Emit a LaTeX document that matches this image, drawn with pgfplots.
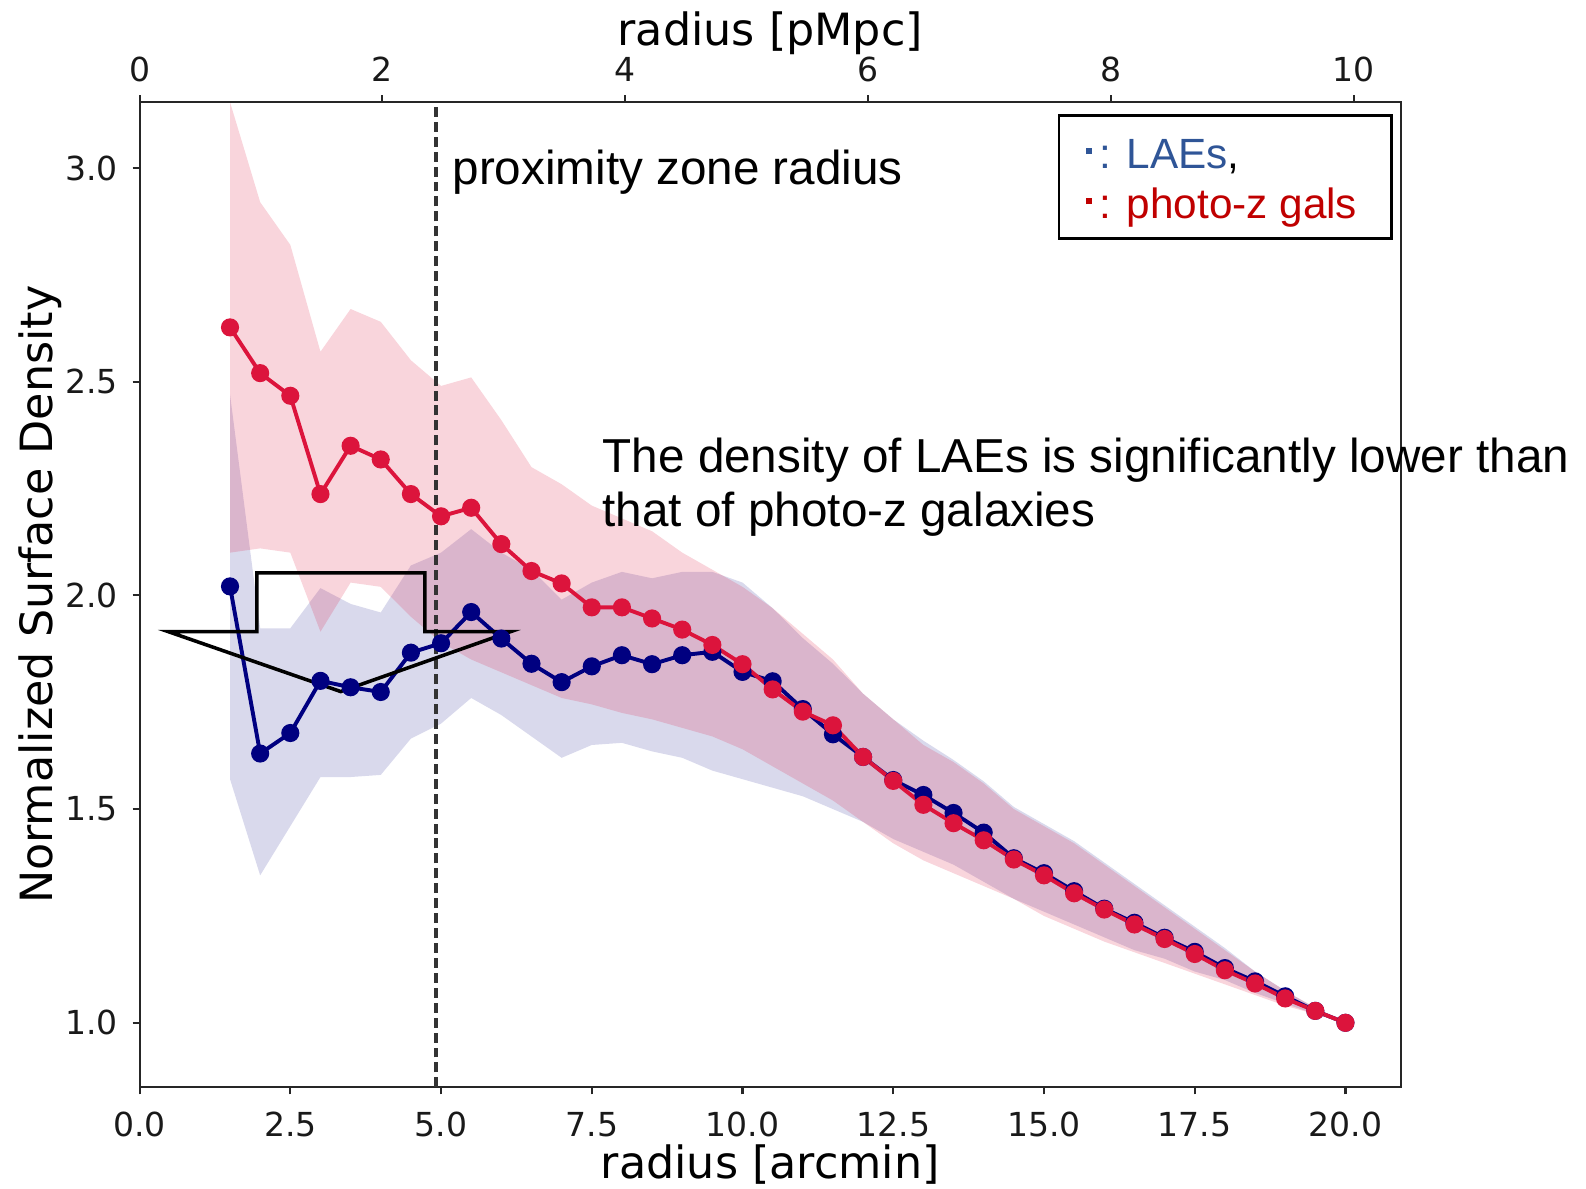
\documentclass[border=0pt]{standalone}
\usepackage{pgfplots}
\pgfplotsset{compat=1.18}
\usepackage{fontspec}
\setmainfont{DejaVu Sans}
\newfontfamily\arial{Liberation Sans}
\definecolor{crim}{RGB}{220,20,60}
\definecolor{nav}{RGB}{0,0,128}
\definecolor{lblue}{RGB}{47,85,151}
\definecolor{lred}{RGB}{192,0,0}
\begin{document}
\begin{tikzpicture}
\begin{axis}[name=ax, scale only axis, width=12.47cm, height=9.74cm,
  xmin=0, xmax=20.92, ymin=0.849, ymax=3.154, clip=false,
  xtick={0,2.5,5,7.5,10,12.5,15,17.5,20},
  ytick={1,1.5,2,2.5,3},
  xtick pos=bottom, ytick pos=left, tick align=outside,
  major tick length=0.07cm,
  axis line style={line width=0.6pt, black!85},
  major tick style={line width=0.6pt, black!85},
  /pgf/number format/assume math mode=true,
  /pgf/number format/.cd, fixed, fixed zerofill, precision=1, /pgfplots/.cd,
  tick label style={font=\fontsize{9.3}{11}\selectfont, text=black!90},
  xticklabel style={anchor=north, yshift=-0.05cm},
  yticklabel style={anchor=east, xshift=-0.02cm},
]
% bands
\addplot[draw=none, fill=nav, fill opacity=0.15] coordinates {
(1.5,2.47)(2.0,1.923)(2.5,1.923)(3.0,2.017)(3.5,1.98)(4.0,1.96)(4.5,2.07)(5.0,2.10)(5.5,2.155)(6.0,2.10)(6.5,2.06)(7.0,1.99)(7.5,2.03)(8.0,2.055)(8.5,2.04)(9.0,2.055)(9.5,2.055)(10.0,2.03)(10.5,1.97)(11.0,1.90)(11.5,1.84)(12.0,1.77)(12.5,1.71)(13.0,1.66)(13.5,1.615)(14.0,1.565)(14.5,1.505)(15.0,1.465)(15.5,1.425)(16.0,1.375)(16.5,1.325)(17.0,1.275)(17.5,1.225)(18.0,1.175)(18.5,1.12)(19.0,1.075)(19.5,1.035)(20.0,1.0)
(20.0,1.0)(19.5,1.02)(19.0,1.045)(18.5,1.07)(18.0,1.10)(17.5,1.12)(17.0,1.15)(16.5,1.17)(16.0,1.20)(15.5,1.23)(15.0,1.26)(14.5,1.29)(14.0,1.33)(13.5,1.37)(13.0,1.40)(12.5,1.43)(12.0,1.47)(11.5,1.50)(11.0,1.53)(10.5,1.55)(10.0,1.57)(9.5,1.59)(9.0,1.62)(8.5,1.635)(8.0,1.655)(7.5,1.65)(7.0,1.62)(6.5,1.67)(6.0,1.72)(5.5,1.76)(5.0,1.70)(4.5,1.665)(4.0,1.58)(3.5,1.575)(3.0,1.575)(2.5,1.46)(2.0,1.345)(1.5,1.57)
} -- cycle;
\addplot[draw=none, fill=crim, fill opacity=0.18] coordinates {
(1.5,3.154)(2.0,2.92)(2.5,2.82)(3.0,2.57)(3.5,2.67)(4.0,2.64)(4.5,2.55)(5.0,2.49)(5.5,2.51)(6.0,2.41)(6.5,2.30)(7.0,2.26)(7.5,2.21)(8.0,2.18)(8.5,2.15)(9.0,2.10)(9.5,2.06)(10.0,2.02)(10.5,1.97)(11.0,1.91)(11.5,1.85)(12.0,1.77)(12.5,1.71)(13.0,1.65)(13.5,1.61)(14.0,1.56)(14.5,1.50)(15.0,1.46)(15.5,1.42)(16.0,1.37)(16.5,1.32)(17.0,1.27)(17.5,1.22)(18.0,1.17)(18.5,1.12)(19.0,1.075)(19.5,1.035)(20.0,1.0)
(20.0,1.0)(19.5,1.02)(19.0,1.04)(18.5,1.065)(18.0,1.09)(17.5,1.115)(17.0,1.14)(16.5,1.165)(16.0,1.19)(15.5,1.22)(15.0,1.25)(14.5,1.29)(14.0,1.32)(13.5,1.35)(13.0,1.38)(12.5,1.42)(12.0,1.47)(11.5,1.52)(11.0,1.56)(10.5,1.60)(10.0,1.64)(9.5,1.67)(9.0,1.69)(8.5,1.71)(8.0,1.725)(7.5,1.745)(7.0,1.76)(6.5,1.79)(6.0,1.82)(5.5,1.85)(5.0,1.89)(4.5,1.95)(4.0,2.02)(3.5,2.03)(3.0,1.915)(2.5,2.10)(2.0,2.11)(1.5,2.10)
} -- cycle;
% lines
\addplot[nav, line width=1.1pt, mark=*, mark size=2.3pt, mark options={fill=nav, draw=nav, line width=0.5pt}] coordinates {
(1.5,2.021)(2.0,1.630)(2.5,1.678)(3.0,1.800)(3.5,1.785)(4.0,1.774)(4.5,1.866)(5.0,1.888)(5.5,1.961)(6.0,1.899)(6.5,1.840)(7.0,1.797)(7.5,1.834)(8.0,1.860)(8.5,1.839)(9.0,1.860)(9.5,1.868)(10.0,1.821)(10.5,1.799)(11.0,1.734)(11.5,1.675)(12.0,1.622)(12.5,1.568)(13.0,1.533)(13.5,1.491)(14.0,1.445)(14.5,1.385)(15.0,1.350)(15.5,1.308)(16.0,1.267)(16.5,1.234)(17.0,1.199)(17.5,1.166)(18.0,1.128)(18.5,1.097)(19.0,1.062)(19.5,1.028)(20.0,1.0)
};
\addplot[crim, line width=1.1pt, mark=*, mark size=2.3pt, mark options={fill=crim, draw=crim, line width=0.5pt}] coordinates {
(1.5,2.627)(2.0,2.52)(2.5,2.467)(3.0,2.237)(3.5,2.350)(4.0,2.318)(4.5,2.237)(5.0,2.185)(5.5,2.205)(6.0,2.12)(6.5,2.057)(7.0,2.028)(7.5,1.972)(8.0,1.972)(8.5,1.946)(9.0,1.920)(9.5,1.884)(10.0,1.839)(10.5,1.780)(11.0,1.728)(11.5,1.696)(12.0,1.622)(12.5,1.566)(13.0,1.510)(13.5,1.467)(14.0,1.427)(14.5,1.382)(15.0,1.345)(15.5,1.303)(16.0,1.265)(16.5,1.230)(17.0,1.196)(17.5,1.161)(18.0,1.123)(18.5,1.092)(19.0,1.057)(19.5,1.028)(20.0,1.0)
};
% proximity line
\draw[black!80, line width=1.1pt, dash pattern=on 2.8pt off 1.4pt] (axis cs:4.92,0.849) -- (axis cs:4.92,3.154);
% arrow shape
\draw[black, line width=1pt, line join=miter] (axis cs:0.48,1.915) -- (axis cs:1.944,1.915) -- (axis cs:1.944,2.0526) -- (axis cs:4.732,2.0526) -- (axis cs:4.732,1.915) -- (axis cs:6.15,1.915) -- (axis cs:3.336,1.775) -- cycle;
% annotations
\node[anchor=base west, inner sep=0pt, font=\arial\fontsize{13.4}{16}\selectfont] at (axis cs:5.18,2.962) {proximity zone radius};
\node[anchor=base west, inner sep=0pt, font=\arial\fontsize{13.4}{16}\selectfont] at (axis cs:7.67,2.288) {The density of LAEs is significantly lower than};
\node[anchor=base west, inner sep=0pt, font=\arial\fontsize{13.4}{16}\selectfont] at (axis cs:7.67,2.162) {that of photo-z galaxies};
% legend box
\draw[black, line width=0.8pt, fill=white] (axis cs:15.25,2.835) rectangle (axis cs:20.76,3.122);
\node[anchor=base west, inner sep=0pt, font=\arial\fontsize{11.9}{14}\selectfont] at (axis cs:15.69,2.999) {{\color{lblue}\rule[0.34em]{0.14em}{0.14em}\,: LAEs},};
\node[anchor=base west, inner sep=0pt, font=\arial\fontsize{11.9}{14}\selectfont, text=lred] at (axis cs:15.69,2.882) {\rule[0.34em]{0.14em}{0.14em}\,: photo-z gals};
% axis labels
\node[anchor=base, inner sep=0pt, font=\fontsize{12.5}{15}\selectfont] at ([yshift=-0.9cm]rel axis cs:0.5,0) {radius [arcmin]};
\node[anchor=center, rotate=90, inner sep=0pt, font=\fontsize{12.5}{15}\selectfont] at ([xshift=-0.98cm]rel axis cs:0,0.5) {Normalized Surface Density};
\node[anchor=base, inner sep=0pt, font=\fontsize{12.5}{15}\selectfont] at ([yshift=0.56cm]rel axis cs:0.5,1) {radius [pMpc]};
\end{axis}
\begin{axis}[scale only axis, width=12.47cm, height=9.74cm,
  xmin=0, xmax=10.39, ymin=0.849, ymax=3.154,
  axis x line*=top, axis y line=none,
  xtick={0,2,4,6,8,10}, tick align=outside,
  major tick length=0.07cm,
  axis line style={line width=0.6pt, black!85},
  major tick style={line width=0.6pt, black!85},
  /pgf/number format/assume math mode=true,
  tick label style={font=\fontsize{9.3}{11}\selectfont, text=black!90},
  xticklabel style={anchor=south, yshift=0.01cm},
]
\end{axis}
\useasboundingbox ([xshift=-1.38cm,yshift=-1.00cm]ax.south west) rectangle ([xshift=1.83cm,yshift=1.01cm]ax.north east);
\end{tikzpicture}
\end{document}
